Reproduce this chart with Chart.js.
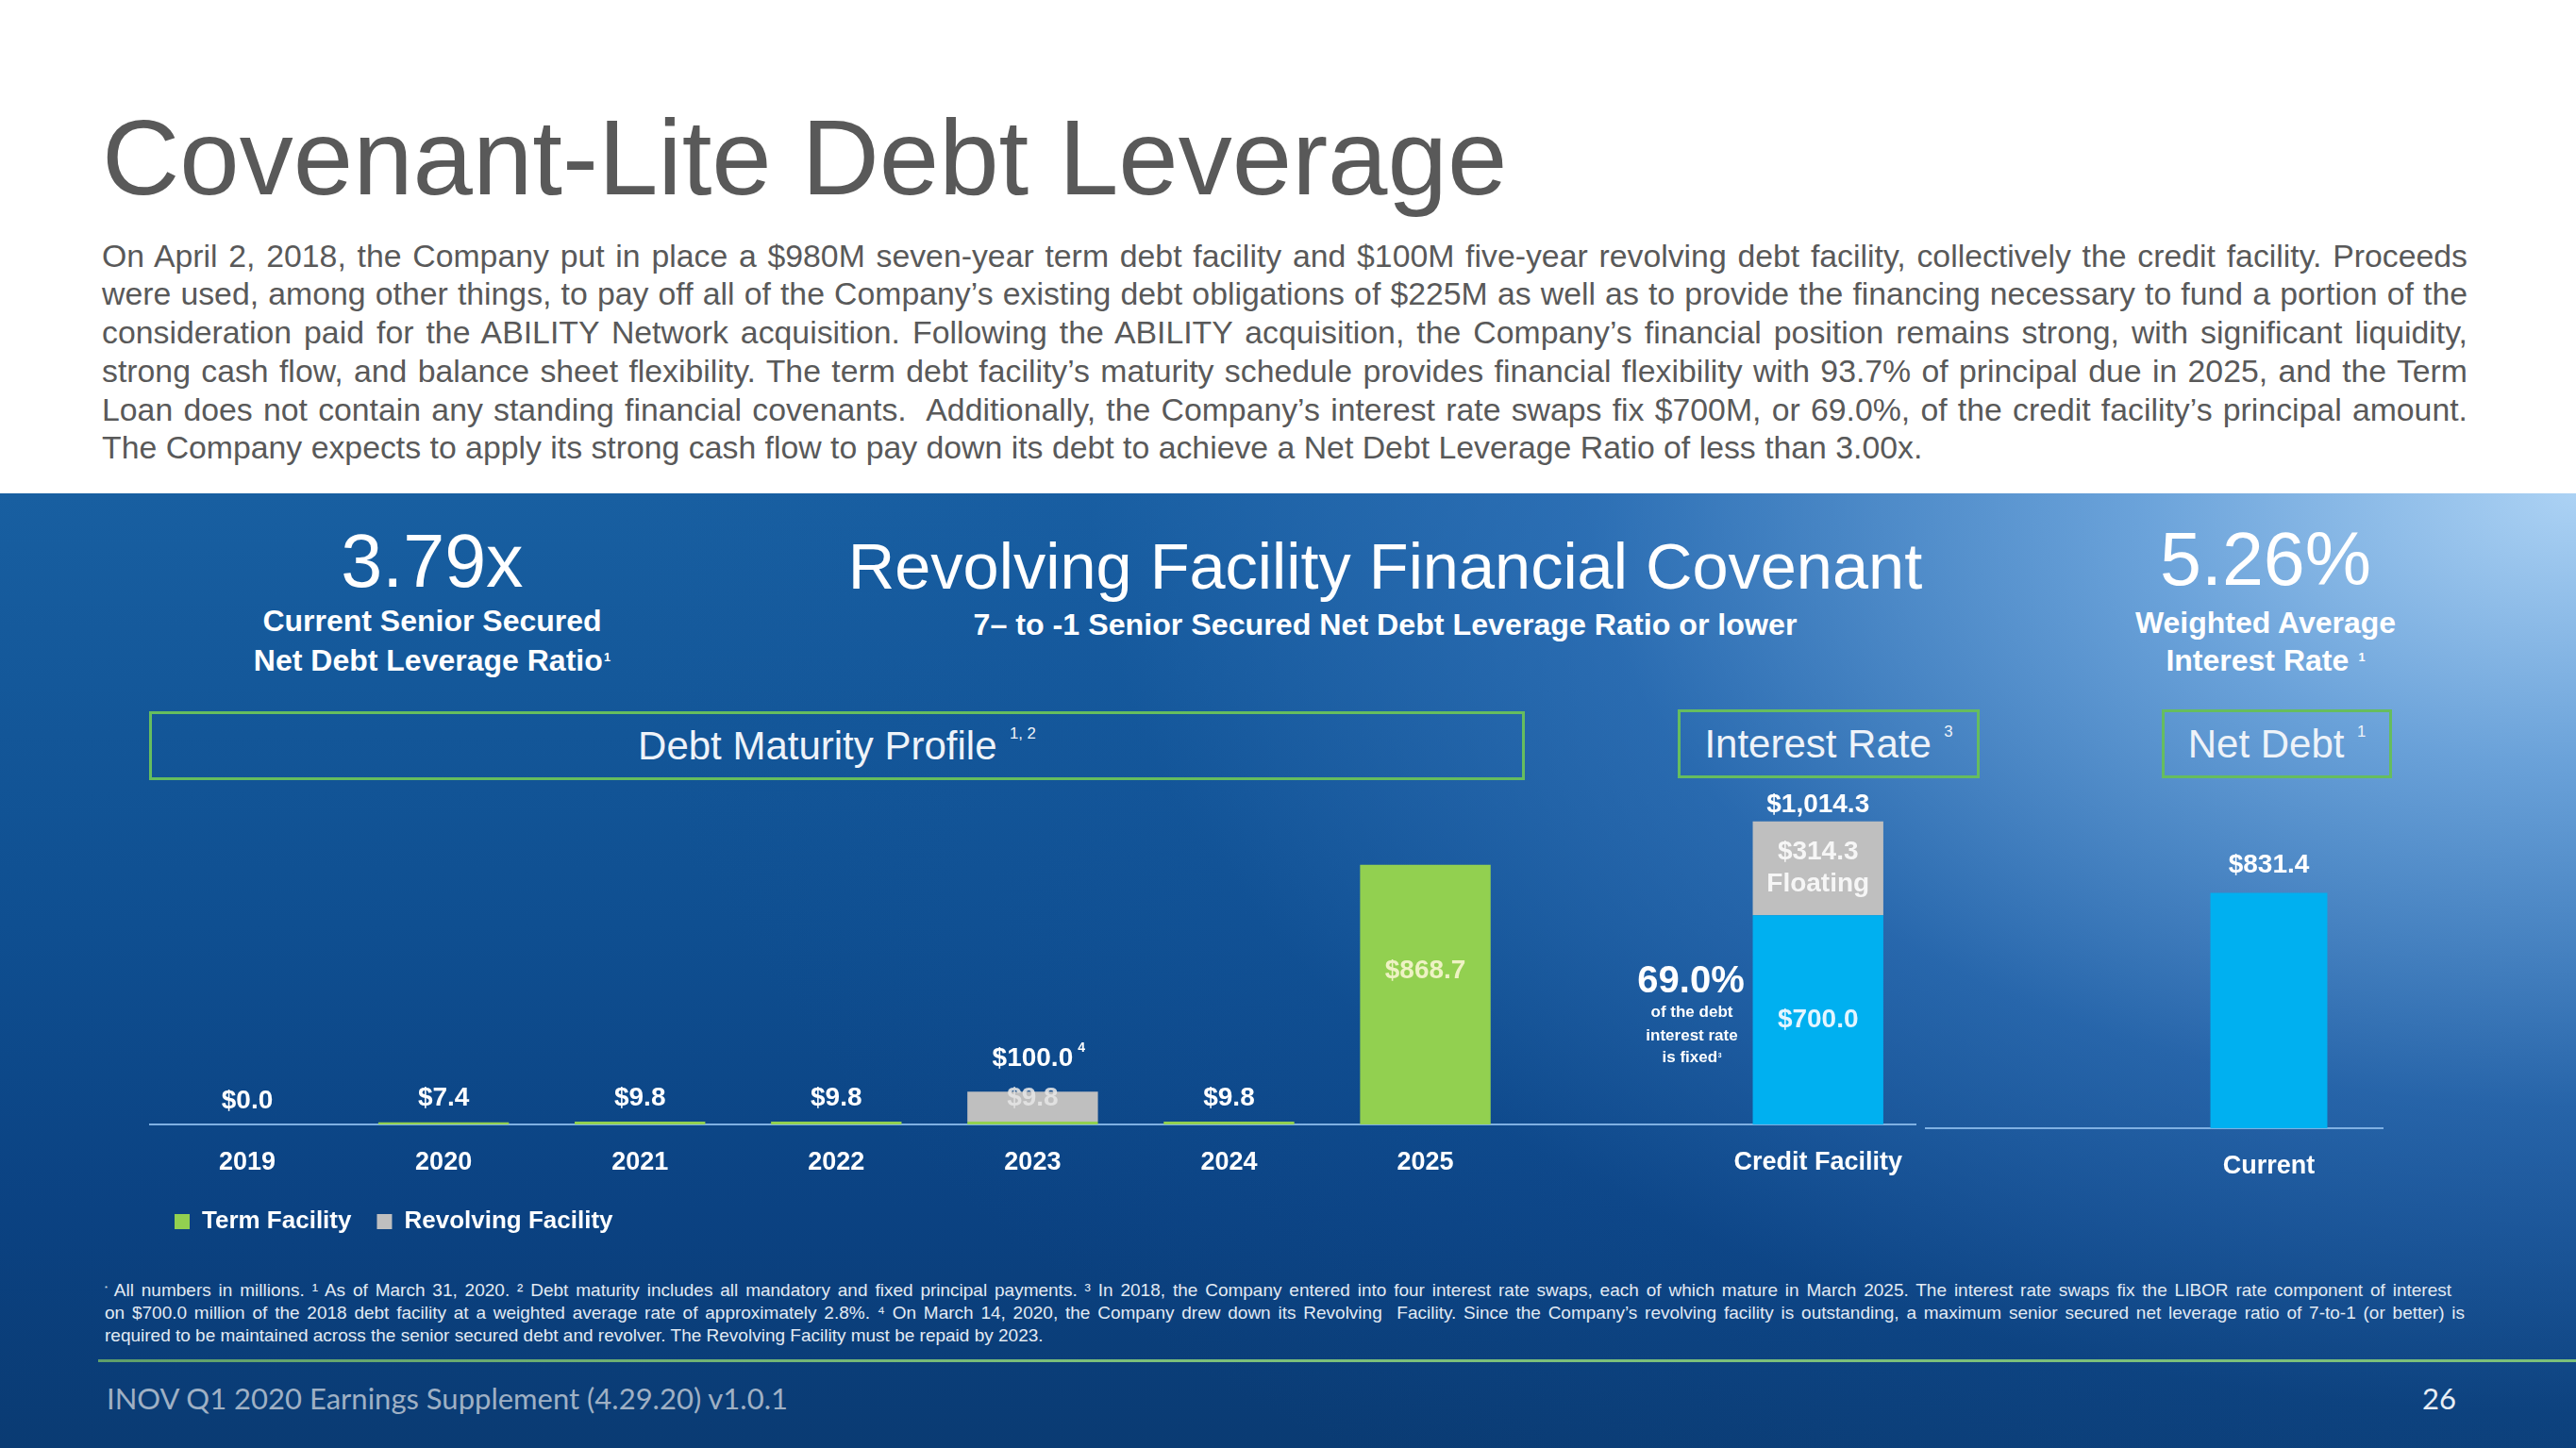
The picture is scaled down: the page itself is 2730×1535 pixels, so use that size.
<!DOCTYPE html>
<html>
<head>
<meta charset="utf-8">
<title>Covenant-Lite Debt Leverage</title>
<script src="https://cdn.jsdelivr.net/npm/chart.js@4.4.1/dist/chart.umd.min.js"></script>
<style>
  html, body { margin: 0; padding: 0; }
  body { width: 2730px; height: 1535px; position: relative; overflow: hidden; background: #fff;
         font-family: "Liberation Sans", Arial, sans-serif; }
  .abs { position: absolute; white-space: nowrap; line-height: 1; }
  .c { transform: translate(-50%, -50%); }
  .cy { transform: translateY(-50%); }
  .w { color: #fff; }
  .b { font-weight: bold; }
  sup { font-size: 40%; position: relative; top: -0.75em; vertical-align: baseline; line-height: 0; margin-left: 0.8em; }
  sup.t { margin-left: 0.1em; }
  #title { left: 108px; top: 110px; font-size: 114px; color: #595959; }
  .para { left: 108px; width: 2507px; font-size: 33.8px; color: #595959; text-align: justify; text-align-last: justify; }
  .para.last { text-align-last: left; }
  #panel { position: absolute; left: 0; top: 523px; width: 2730px; height: 1012px;
    background:
      radial-gradient(ellipse 2100px 1300px at 2730px 0px, rgba(172,210,244,1) 0%, rgba(118,172,226,0.88) 22%, rgba(60,124,196,0.55) 50%, rgba(25,90,165,0.2) 75%, rgba(20,85,160,0) 100%),
      linear-gradient(180deg, #185fa1 0%, #0f4f91 45%, #0b4282 75%, #0a3b73 100%); }
  .box { position: absolute; border: 3px solid #66bd5e; box-sizing: border-box; display: flex; align-items: center;
         justify-content: center; color: #eef3f9; font-size: 42px; line-height: 1; white-space: nowrap; }
  .foot { left: 111px; font-size: 19px; color: #e2eaf3; text-align: justify; text-align-last: justify; }
  #rule { position: absolute; left: 104px; top: 1441px; width: 2626px; height: 3px;
          background: linear-gradient(to right, #5f9f6a, #7cc07a 40%, #7cc07a); }
  .footer { font-family: Lato, "Open Sans", sans-serif; font-size: 31px; }
  canvas { position: absolute; }
</style>
</head>
<body>
<div class="abs" id="title">Covenant-Lite Debt Leverage</div>
<div class="abs para cy" style="top:272px">On April 2, 2018, the Company put in place a $980M seven-year term debt facility and $100M five-year revolving debt facility, collectively the credit facility. Proceeds</div>
<div class="abs para cy" style="top:312px">were used, among other things, to pay off all of the Company’s existing debt obligations of $225M as well as to provide the financing necessary to fund a portion of the</div>
<div class="abs para cy" style="top:353px">consideration paid for the ABILITY Network acquisition. Following the ABILITY acquisition, the Company’s financial position remains strong, with significant liquidity,</div>
<div class="abs para cy" style="top:394px">strong cash flow, and balance sheet flexibility. The term debt facility’s maturity schedule provides financial flexibility with 93.7% of principal due in 2025, and the Term</div>
<div class="abs para cy" style="top:435px">Loan does not contain any standing financial covenants.&nbsp; Additionally, the Company’s interest rate swaps fix $700M, or 69.0%, of the credit facility’s principal amount.</div>
<div class="abs para last cy" style="top:475px">The Company expects to apply its strong cash flow to pay down its debt to achieve a Net Debt Leverage Ratio of less than 3.00x.</div>

<div id="panel"></div>

<div class="abs c w" style="left:458px; top:594px; font-size:79px;">3.79x</div>
<div class="abs c w b" style="left:458px; top:658px; font-size:32px;">Current Senior Secured</div>
<div class="abs c w b" style="left:458px; top:700px; font-size:32px;">Net Debt Leverage Ratio<sup class="t">1</sup></div>

<div class="abs c w" style="left:1468px; top:601px; font-size:68.5px;">Revolving Facility Financial Covenant</div>
<div class="abs c w b" style="left:1468px; top:662px; font-size:32.2px;">7– to -1 Senior Secured Net Debt Leverage Ratio or lower</div>

<div class="abs c w" style="left:2401px; top:592px; font-size:79px;">5.26%</div>
<div class="abs c w b" style="left:2401px; top:660px; font-size:32px;">Weighted Average</div>
<div class="abs c w b" style="left:2401px; top:700px; font-size:32px;">Interest Rate<sup>1</sup></div>

<div class="box" style="left:158px; top:754px; width:1458px; height:73px;">Debt Maturity Profile<sup>1, 2</sup></div>
<div class="box" style="left:1778px; top:752px; width:320px; height:73px;">Interest Rate<sup>3</sup></div>
<div class="box" style="left:2291px; top:752px; width:244px; height:73px;">Net Debt<sup>1</sup></div>

<canvas id="maturityChart" width="1882" height="522" style="left:158px; top:796px;"></canvas>
<canvas id="netDebtChart" width="486" height="522" style="left:2040px; top:800px;"></canvas>

<div class="abs c w b" style="left:1792px; top:1038px; font-size:40px;">69.0%</div>
<div class="abs c w b" style="left:1793px; top:1072px; font-size:17px;">of the debt</div>
<div class="abs c w b" style="left:1793px; top:1097px; font-size:17px;">interest rate</div>
<div class="abs c w b" style="left:1793px; top:1120px; font-size:17px;">is fixed<sup class="t">3</sup></div>

<div class="abs foot cy" style="top:1367px; width:2487px;"><sup style="margin-left:0">*</sup> All numbers in millions. ¹ As of March 31, 2020. ² Debt maturity includes all mandatory and fixed principal payments. ³ In 2018, the Company entered into four interest rate swaps, each of which mature in March 2025. The interest rate swaps fix the LIBOR rate component of interest</div>
<div class="abs foot cy" style="top:1391px; width:2501px;">on $700.0 million of the 2018 debt facility at a weighted average rate of approximately 2.8%. ⁴ On March 14, 2020, the Company drew down its Revolving&nbsp; Facility. Since the Company’s revolving facility is outstanding, a maximum senior secured net leverage ratio of 7-to-1 (or better) is</div>
<div class="abs foot cy" style="top:1415px; text-align-last:left;">required to be maintained across the senior secured debt and revolver. The Revolving Facility must be repaid by 2023.</div>
<div id="rule"></div>
<div class="abs footer cy" style="left:113px; top:1482px; color:#9fb0c4;">INOV Q1 2020 Earnings Supplement (4.29.20) v1.0.1</div>
<div class="abs footer c" style="left:2585px; top:1482px; color:#e8eef5;">26</div>

<script>
// Debt maturity profile, $M
var categories = ['2019', '2020', '2021', '2022', '2023', '2024', '2025', '', 'Credit Facility'];
var termFacility = [0.0, 7.4, 9.8, 9.8, 9.8, 9.8, 868.7, null, null];
var revolvingFacility = [null, null, null, null, 100.0, null, null, null, null];
// Credit facility split by interest rate type
var fixedRate = [null, null, null, null, null, null, null, null, 700.0];
var floatingRate = [null, null, null, null, null, null, null, null, 314.3];
// Net debt
var netDebtCategories = ['', 'Current'];
var netDebt = [null, 831.4];

var GREEN = '#92d050', GREY = '#bfbfbf', BLUE = '#00b0f0';
var FONT = '"Liberation Sans", Arial, sans-serif';

function money(v) {
  return '$' + v.toLocaleString('en-US', { minimumFractionDigits: 1, maximumFractionDigits: 1 });
}

// value labels drawn on / above the bars
var valueLabels = {
  id: 'valueLabels',
  afterDatasetsDraw: function (chart) {
    var ctx = chart.ctx;
    ctx.save();
    ctx.textAlign = 'center';
    ctx.textBaseline = 'middle';
    chart.data.datasets.forEach(function (ds, di) {
      var meta = chart.getDatasetMeta(di);
      meta.data.forEach(function (bar, i) {
        var v = ds.data[i];
        if (v === null || v === undefined) return;
        var top = Math.min(bar.y, bar.base), bottom = Math.max(bar.y, bar.base);
        var mid = (top + bottom) / 2;
        ctx.font = 'bold 28px ' + FONT;
        var mode = ds.labelMode;
        if (mode === 'term') {
          if (v > 100) {
            ctx.fillStyle = '#eef2c4';
            ctx.fillText(money(v), bar.x, mid - 25);
          } else {
            var covered = revolvingFacility[i] !== null;
            ctx.fillStyle = covered ? 'rgba(228,228,228,0.9)' : '#ffffff';
            ctx.fillText(money(v), bar.x, top - 25);
          }
        } else if (mode === 'above') {
          var y = top - ds.labelGap;
          ctx.fillStyle = '#ffffff';
          ctx.fillText(money(v), bar.x, y);
          if (ds.labelNote) {
            var w = ctx.measureText(money(v)).width;
            ctx.font = 'bold 14px ' + FONT;
            ctx.textAlign = 'left';
            ctx.fillText(ds.labelNote, bar.x + w / 2 + 5, y - 11);
            ctx.textAlign = 'center';
          }
        } else if (mode === 'inside') {
          ctx.fillStyle = '#e4f5ff';
          ctx.fillText(money(v), bar.x, mid);
        } else if (mode === 'floating') {
          ctx.fillStyle = '#f6f6f6';
          ctx.fillText(money(v), bar.x, mid - 17);
          ctx.fillText('Floating', bar.x, mid + 17);
          var total = fixedRate[i] + floatingRate[i];
          ctx.fillStyle = '#ffffff';
          ctx.fillText(money(total), bar.x, top - 17);
        }
      });
    });
    ctx.restore();
  }
};

function xAxis() {
  return {
    stacked: true,
    grid: { display: false, drawTicks: false },
    border: { display: true, color: '#7fb0e2', width: 2 },
    ticks: { color: '#ffffff', padding: 24, font: { family: FONT, size: 27, weight: 'bold' } },
    afterFit: function (s) { s.height = 63; }
  };
}

var mainChart = new Chart(document.getElementById('maturityChart'), {
  type: 'bar',
  data: {
    labels: categories,
    datasets: [
      { label: 'Term Facility', data: termFacility, backgroundColor: GREEN, labelMode: 'term' },
      { label: 'Revolving Facility', data: revolvingFacility, backgroundColor: GREY, labelMode: 'above', labelGap: 35, labelNote: '4' },
      { label: 'Fixed', data: fixedRate, backgroundColor: BLUE, labelMode: 'inside', hideInLegend: true },
      { label: 'Floating', data: floatingRate, backgroundColor: GREY, labelMode: 'floating', hideInLegend: true }
    ]
  },
  options: {
    responsive: false,
    animation: false,
    datasets: { bar: { barPercentage: 0.665, categoryPercentage: 1.0 } },
    layout: { padding: 0 },
    scales: {
      x: xAxis(),
      y: { stacked: true, display: false, min: 0, max: 1250 }
    },
    plugins: {
      tooltip: { enabled: false },
      legend: {
        position: 'bottom',
        align: 'start',
        labels: {
          color: '#ffffff',
          boxWidth: 16,
          boxHeight: 16,
          padding: 27,
          font: { family: FONT, size: 26, weight: 'bold' },
          filter: function (item, data) { return !data.datasets[item.datasetIndex].hideInLegend; }
        }
      }
    }
  },
  plugins: [valueLabels]
});

new Chart(document.getElementById('netDebtChart'), {
  type: 'bar',
  data: {
    labels: netDebtCategories,
    datasets: [
      { label: 'Net Debt', data: netDebt, backgroundColor: BLUE, labelMode: 'above', labelGap: 29 }
    ]
  },
  options: {
    responsive: false,
    animation: false,
    datasets: { bar: { barPercentage: 0.51, categoryPercentage: 1.0 } },
    layout: { padding: { bottom: mainChart.legend.height } },
    scales: {
      x: xAxis(),
      y: { stacked: true, display: false, min: 0, max: 1320 }
    },
    plugins: { tooltip: { enabled: false }, legend: { display: false } }
  },
  plugins: [valueLabels]
});
</script>
</body>
</html>
